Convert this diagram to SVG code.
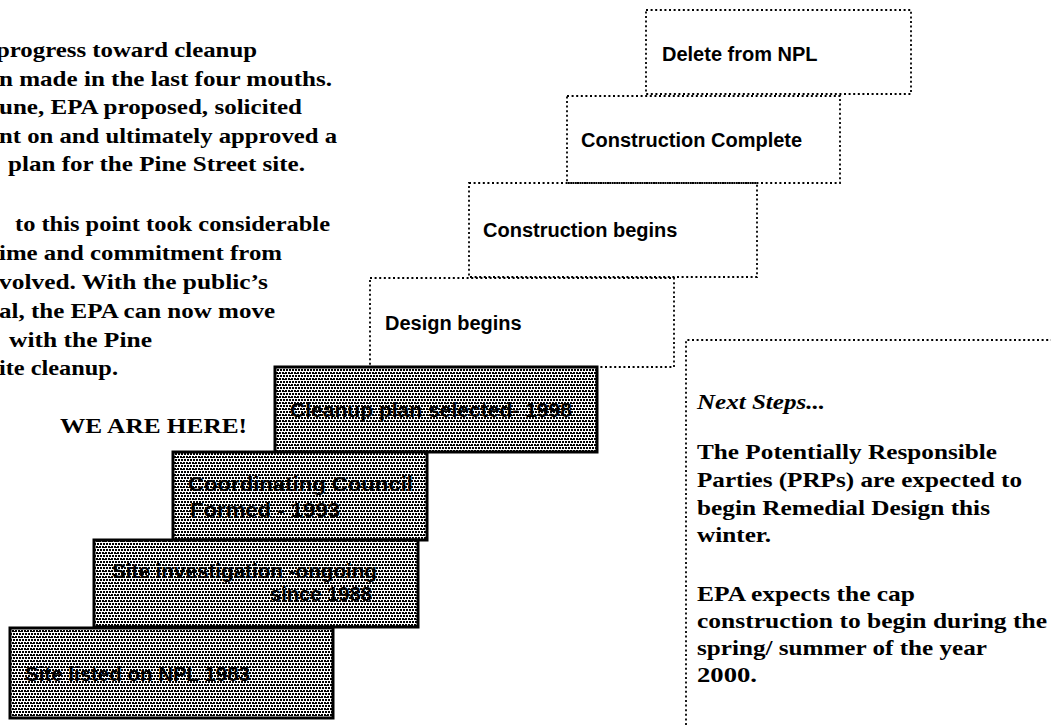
<svg xmlns="http://www.w3.org/2000/svg" width="1051" height="725" viewBox="0 0 1051 725">
<defs>
<pattern id="stip" width="6" height="6" patternUnits="userSpaceOnUse">
<rect width="6" height="6" fill="#fff"/>
<rect x="0" y="0" width="2" height="2" fill="#000"/>
<rect x="3" y="0" width="2" height="2" fill="#000"/>
<rect x="1" y="3" width="2" height="2" fill="#000"/>
<rect x="4" y="3" width="2" height="2" fill="#000"/>
<rect x="2" y="1" width="1" height="1" fill="#000"/>
<rect x="5" y="4" width="1" height="1" fill="#000"/>
</pattern>
</defs>
<style>
.bg{fill:#fff}
.dot{fill:none;stroke:#000;stroke-width:1.8;stroke-dasharray:2 2.6}
.shade{fill:url(#stip);stroke:#000;stroke-width:3}
.ser{font-family:"Liberation Serif","Times New Roman",serif;font-weight:bold;font-size:22px;fill:#000}
.it{font-style:italic;font-weight:bold}
.lab{font-family:"Liberation Sans",Arial,sans-serif;font-weight:bold;font-size:20px;fill:#000}
</style>
<rect class="bg" width="1051" height="725"/>

<g id="intro-text" class="ser">
<text x="-4" y="57" textLength="261" lengthAdjust="spacingAndGlyphs">progress toward cleanup</text>
<text x="-1" y="86" textLength="333" lengthAdjust="spacingAndGlyphs">n made in the last four mouths.</text>
<text x="-1" y="114" textLength="303" lengthAdjust="spacingAndGlyphs">une, EPA proposed, solicited</text>
<text x="-1" y="143" textLength="338" lengthAdjust="spacingAndGlyphs">nt on and ultimately approved a</text>
<text x="8" y="171" textLength="297" lengthAdjust="spacingAndGlyphs">plan for the Pine Street site.</text>
<text x="15" y="231" textLength="315" lengthAdjust="spacingAndGlyphs">to this point took considerable</text>
<text x="-1" y="260" textLength="283" lengthAdjust="spacingAndGlyphs">ime and commitment from</text>
<text x="-1" y="289" textLength="269" lengthAdjust="spacingAndGlyphs">volved. With the public’s</text>
<text x="-1" y="318" textLength="276" lengthAdjust="spacingAndGlyphs">al, the EPA can now move</text>
<text x="9" y="347" textLength="143" lengthAdjust="spacingAndGlyphs">with the Pine</text>
<text x="-1" y="375" textLength="119" lengthAdjust="spacingAndGlyphs">ite cleanup.</text>
</g>

<g id="we-are-here" class="ser">
<text x="60" y="433" textLength="187" lengthAdjust="spacingAndGlyphs">WE ARE HERE!</text>
</g>

<g id="connectors">
<path class="dot" d="M686,725 V340 H1051"/>
</g>

<g id="delete-from-npl">
<rect class="dot" x="646" y="10" width="265" height="84"/>
<text class="lab" x="662" y="61">Delete from NPL</text>
</g>
<g id="construction-complete">
<rect class="dot" x="567" y="96" width="273" height="87"/>
<text class="lab" x="581" y="147">Construction Complete</text>
</g>
<g id="construction-begins">
<rect class="dot" x="469" y="183" width="288" height="94"/>
<text class="lab" x="483" y="237">Construction begins</text>
</g>
<g id="design-begins">
<rect class="dot" x="370" y="278" width="304" height="89"/>
<text class="lab" x="385" y="330">Design begins</text>
</g>

<g id="cleanup-plan">
<rect class="shade" x="275" y="367" width="322" height="85"/>
<text class="lab" x="290" y="417" textLength="282" lengthAdjust="spacingAndGlyphs">Cleanup plan selected- 1998</text>
</g>
<g id="coordinating-council">
<rect class="shade" x="173" y="452" width="254" height="88"/>
<text class="lab" x="188" y="491" textLength="225" lengthAdjust="spacingAndGlyphs">Coordinating Council</text>
<text class="lab" x="190" y="517" textLength="150" lengthAdjust="spacingAndGlyphs">Formed - 1993</text>
</g>
<g id="site-investigation">
<rect class="shade" x="94" y="540" width="324" height="87"/>
<text class="lab" x="112" y="578" textLength="265" lengthAdjust="spacingAndGlyphs">Site investigation -ongoing</text>
<text class="lab" x="270" y="601" textLength="102" lengthAdjust="spacingAndGlyphs">since 1988</text>
</g>
<g id="site-listed">
<rect class="shade" x="10" y="628" width="323" height="90"/>
<text class="lab" x="25" y="681" textLength="225" lengthAdjust="spacingAndGlyphs">Site listed on NPL 1983</text>
</g>

<g id="next-steps" class="ser">
<text class="it" x="697" y="409" textLength="128" lengthAdjust="spacingAndGlyphs">Next Steps...</text>
<text x="697" y="459" textLength="300" lengthAdjust="spacingAndGlyphs">The Potentially Responsible</text>
<text x="697" y="487" textLength="325" lengthAdjust="spacingAndGlyphs">Parties (PRPs) are expected to</text>
<text x="697" y="515" textLength="293" lengthAdjust="spacingAndGlyphs">begin Remedial Design this</text>
<text x="697" y="542" textLength="74" lengthAdjust="spacingAndGlyphs">winter.</text>
<text x="697" y="601" textLength="218" lengthAdjust="spacingAndGlyphs">EPA expects the cap</text>
<text x="697" y="628" textLength="350" lengthAdjust="spacingAndGlyphs">construction to begin during the</text>
<text x="697" y="655" textLength="290" lengthAdjust="spacingAndGlyphs">spring/ summer of the year</text>
<text x="697" y="682" textLength="60" lengthAdjust="spacingAndGlyphs">2000.</text>
</g>
</svg>
